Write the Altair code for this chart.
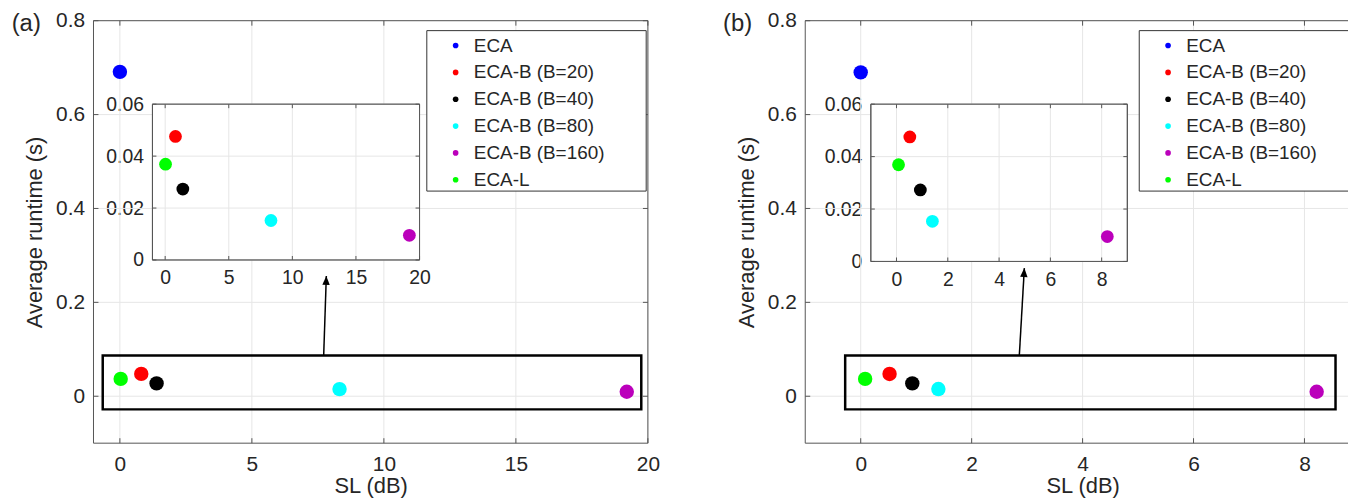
import math
import altair as alt
import pandas as pd

# ---------------- data ----------------
methods = ["ECA", "ECA-B (B=20)", "ECA-B (B=40)", "ECA-B (B=80)", "ECA-B (B=160)", "ECA-L"]
colors = ["#0000ff", "#ff0000", "#000000", "#00ffff", "#bb00bb", "#00ff00"]

sl_a = [0.0, 0.81, 1.39, 8.32, 19.2, 0.03]
rt_a = [0.691, 0.0476, 0.0273, 0.0152, 0.0095, 0.0369]
sl_b = [0.0, 0.52, 0.93, 1.40, 8.22, 0.08]
rt_b = [0.690, 0.0475, 0.0273, 0.0153, 0.0095, 0.0369]

xticks_a = [0, 5, 10, 15, 20]
xticks_b = [0, 2, 4, 6, 8]
yticks_main = [0, 0.2, 0.4, 0.6, 0.8]
yticks_inset = [0, 0.02, 0.04, 0.06]

xdom_a = [-1, 20]
xdom_b = [-1, 9]
ydom_main = [-0.1, 0.8]
ydom_inset = [0, 0.06]

box_a_x = [-0.65, 19.75]
box_b_x = [-0.28, 8.56]
box_y = [-0.028, 0.087]

arrow_a_x = [7.72, 7.82]
arrow_a_y = [0.088, 0.256]
arrow_b_x = [2.86, 2.95]
arrow_b_y = [0.088, 0.273]

panel_tags = ["(a)", "(b)"]
x_title = "SL (dB)"
y_title = "Average runtime (s)"

# ---------------- layout / style ----------------
W, H = 1348, 494
FONT = "Liberation Sans"
TXT = "#262626"
FRAME = "#555555"
GRID = "#e6e6e6"

LAYOUT = {
    "a": dict(main_x=(86, 643.7), main_y=(436.3, 11.3), inset_x=(145.3, 414.0),
              inset_y=(252.0, 95.3), legend=(421.3, 21.3), legend_box=(421.3, 642.0, 21.3, 182.7),
              tag_x=3.7),
    "b": dict(main_x=(802.0, 1360.0), main_y=(436.3, 11.3), inset_x=(868.0, 1126.0),
              inset_y=(253.5, 95.3), legend=(1138.0, 21.3), legend_box=(1138.0, 1358.7, 21.3, 182.7),
              tag_x=719.3),
}

UP, DOWN, RIGHT, LEFT = "M0,0L0,-1", "M0,0L0,1", "M0,0L1,0", "M0,0L-1,0"
HEAD = "M0,0L-1,2.4L1,2.4Z"


def S(dom, rng):
    return alt.Scale(domain=list(dom), range=list(rng), nice=False, zero=False)


def frame_layers(xdom, ydom, xticks, yticks, sx, sy, tick_size, bg=False):
    out = []
    if bg:
        out.append(alt.Chart(pd.DataFrame({"x0": [xdom[0]], "x1": [xdom[1]], "y0": [ydom[0]], "y1": [ydom[1]]}))
                   .mark_rect(fill="white", stroke=FRAME, strokeWidth=1)
                   .encode(x=alt.X("x0:Q", scale=sx, axis=None), x2="x1:Q",
                           y=alt.Y("y0:Q", scale=sy, axis=None), y2="y1:Q"))
    vg = pd.DataFrame({"x": xticks, "y0": ydom[0], "y1": ydom[1]})
    out.append(alt.Chart(vg).mark_rule(color=GRID, strokeWidth=1).encode(
        x=alt.X("x:Q", scale=sx, axis=None), y=alt.Y("y0:Q", scale=sy, axis=None), y2="y1:Q"))
    hg = pd.DataFrame({"y": yticks, "x0": xdom[0], "x1": xdom[1]})
    out.append(alt.Chart(hg).mark_rule(color=GRID, strokeWidth=1).encode(
        y=alt.Y("y:Q", scale=sy, axis=None), x=alt.X("x0:Q", scale=sx, axis=None), x2="x1:Q"))
    out.append(alt.Chart(pd.DataFrame({"x0": [xdom[0]], "x1": [xdom[1]], "y0": [ydom[0]], "y1": [ydom[1]]}))
               .mark_rect(fillOpacity=0, stroke=FRAME, strokeWidth=1)
               .encode(x=alt.X("x0:Q", scale=sx, axis=None), x2="x1:Q",
                       y=alt.Y("y0:Q", scale=sy, axis=None), y2="y1:Q"))
    sides = [
        (pd.DataFrame({"x": xticks, "y": ydom[0]}), UP),
        (pd.DataFrame({"x": xticks, "y": ydom[1]}), DOWN),
        (pd.DataFrame({"x": xdom[0], "y": yticks}), RIGHT),
        (pd.DataFrame({"x": xdom[1], "y": yticks}), LEFT),
    ]
    for df, shp in sides:
        out.append(alt.Chart(df).mark_point(shape=shp, filled=False, stroke=FRAME, strokeWidth=1,
                                            size=tick_size, opacity=1)
                   .encode(x=alt.X("x:Q", scale=sx, axis=None), y=alt.Y("y:Q", scale=sy, axis=None)))
    return out


def axis_layers(xdom, ydom, xticks, yticks, sx, sy, L_x, L_y, fs, fmt_y, titles, lpx, lpy):
    out = []
    xa = dict(values=xticks, orient="bottom", offset=L_y[0] - H, domain=False, ticks=False,
              tickSize=0, grid=False, labelFlush=False, labelOverlap=False, labelPadding=lpx,
              labelFontSize=fs, format="d")
    ya = dict(values=yticks, orient="left", offset=-L_x[0], domain=False, ticks=False,
              tickSize=0, grid=False, labelFlush=False, labelOverlap=False, labelPadding=lpy,
              labelFontSize=fs, format=fmt_y)
    if titles:
        xa.update(title=x_title, titleFontSize=22, titlePadding=2)
        ya.update(title=y_title, titleFontSize=22, titlePadding=9)
    else:
        xa.update(title=None)
        ya.update(title=None)
    out.append(alt.Chart(pd.DataFrame({"x": xticks, "y": ydom[0]})).mark_point(opacity=0).encode(
        x=alt.X("x:Q", scale=sx, axis=alt.Axis(**xa)), y=alt.Y("y:Q", scale=sy, axis=None)))
    out.append(alt.Chart(pd.DataFrame({"y": yticks, "x": xdom[0]})).mark_point(opacity=0).encode(
        y=alt.Y("y:Q", scale=sy, axis=alt.Axis(**ya)), x=alt.X("x:Q", scale=sx, axis=None)))
    return out


def panel(key, tag, sl, rt, xdom, xticks, box_x, arr_x, arr_y):
    L = LAYOUT[key]
    sx, sy = S(xdom, L["main_x"]), S(ydom_main, L["main_y"])
    ix, iy = S(xdom, L["inset_x"]), S(ydom_inset, L["inset_y"])
    layers = []
    # main frame, grid, ticks, axes
    layers += frame_layers(xdom, ydom_main, xticks, yticks_main, sx, sy, 100)
    layers += axis_layers(xdom, ydom_main, xticks, yticks_main, sx, sy, L["main_x"], L["main_y"],
                          21, ".1~f", True, 10, 9)
    pts = pd.DataFrame({"method": methods, "sl": sl, "rt": rt})
    legend = alt.Legend(orient="none", legendX=L["legend"][0], legendY=L["legend"][1],
                        direction="vertical", title=None, padding=5.5, symbolOffset=14,
                        labelOffset=8.8, rowPadding=7, symbolSize=32, symbolType="circle",
                        symbolStrokeWidth=0, labelFontSize=19, labelFont=FONT, labelColor=TXT,
                        labelLimit=600)
    layers.append(alt.Chart(pts).mark_point(filled=True, shape="circle", size=210, opacity=1,
                                            strokeWidth=0).encode(
        x=alt.X("sl:Q", scale=sx, axis=None), y=alt.Y("rt:Q", scale=sy, axis=None),
        color=alt.Color("method:N", scale=alt.Scale(domain=methods, range=colors), legend=legend)))
    # legend frame (drawn beneath the legend entries)
    lb = L["legend_box"]
    layers.append(alt.Chart(pd.DataFrame({"k": [0]})).mark_rect(
        fill="white", stroke="#333333", strokeWidth=1).encode(
        x=alt.value(lb[0]), x2=alt.value(lb[1]), y=alt.value(lb[2]), y2=alt.value(lb[3])))
    # highlight box
    layers.append(alt.Chart(pd.DataFrame({"x0": [box_x[0]], "x1": [box_x[1]], "y0": [box_y[0]], "y1": [box_y[1]]}))
                  .mark_rect(fillOpacity=0, stroke="black", strokeWidth=2.5)
                  .encode(x=alt.X("x0:Q", scale=sx, axis=None), x2="x1:Q",
                          y=alt.Y("y0:Q", scale=sy, axis=None), y2="y1:Q"))
    # arrow
    arr = pd.DataFrame({"x": arr_x, "y": arr_y, "o": [0, 1]})
    layers.append(alt.Chart(arr).mark_line(color="black", strokeWidth=1.5).encode(
        x=alt.X("x:Q", scale=sx, axis=None), y=alt.Y("y:Q", scale=sy, axis=None), order="o:Q"))
    px = (L["main_x"][1] - L["main_x"][0]) / (xdom[1] - xdom[0])
    py = (L["main_y"][0] - L["main_y"][1]) / (ydom_main[1] - ydom_main[0])
    ang = math.degrees(math.atan2((arr_x[1] - arr_x[0]) * px, (arr_y[1] - arr_y[0]) * py))
    layers.append(alt.Chart(arr.iloc[[1]]).mark_point(shape=HEAD, filled=True, color="black",
                                                      size=56, opacity=1, strokeWidth=0,
                                                      angle=round(ang % 360, 2)).encode(
        x=alt.X("x:Q", scale=sx, axis=None), y=alt.Y("y:Q", scale=sy, axis=None)))
    # inset
    layers += frame_layers(xdom, ydom_inset, xticks, yticks_inset, ix, iy, 64, bg=True)
    layers += axis_layers(xdom, ydom_inset, xticks, yticks_inset, ix, iy, L["inset_x"], L["inset_y"],
                          19.5, ".2~f", False, 9, 9)
    ins = pts[pts["method"] != "ECA"]
    layers.append(alt.Chart(ins).mark_point(filled=True, shape="circle", size=165, opacity=1,
                                            strokeWidth=0).encode(
        x=alt.X("sl:Q", scale=ix, axis=None), y=alt.Y("rt:Q", scale=iy, axis=None),
        color=alt.Color("method:N", scale=alt.Scale(domain=methods, range=colors), legend=None)))
    # panel tag
    layers.append(alt.Chart(pd.DataFrame({"t": [tag]})).mark_text(
        align="left", baseline="alphabetic", fontSize=24, font=FONT, color=TXT).encode(
        x=alt.value(L["tag_x"]), y=alt.value(22), text="t:N"))
    return layers


layers = panel("a", panel_tags[0], sl_a, rt_a, xdom_a, xticks_a, box_a_x, arrow_a_x, arrow_a_y)
layers += panel("b", panel_tags[1], sl_b, rt_b, xdom_b, xticks_b, box_b_x, arrow_b_x, arrow_b_y)

chart = (
    alt.layer(*layers)
    .resolve_scale(x="independent", y="independent", color="independent")
    .properties(width=W, height=H, autosize=alt.AutoSizeParams(type="none"), padding=0)
    .configure_view(strokeWidth=0)
    .configure_axis(labelFont=FONT, titleFont=FONT, labelColor=TXT, titleColor=TXT,
                    titleFontWeight="normal")
)

chart.save("out.html", embed_options={"renderer": "svg", "actions": False})
